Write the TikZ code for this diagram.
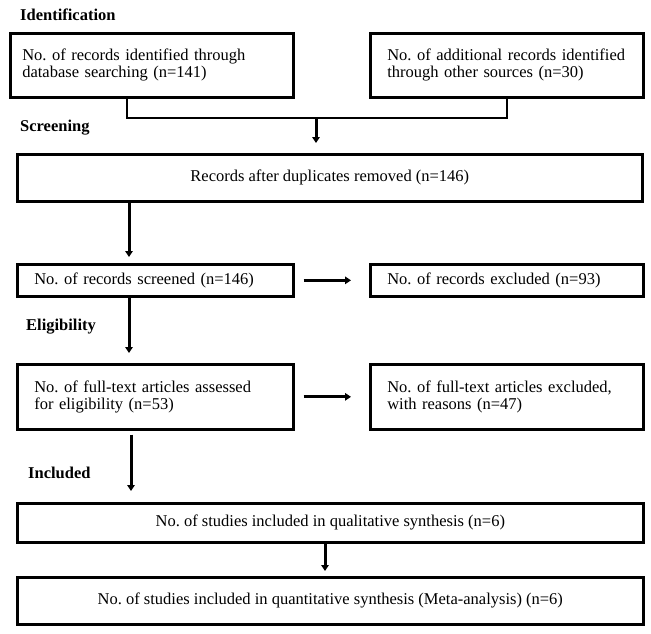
\documentclass[tikz,border=0pt]{standalone}
\usepackage{fontspec}
\setmainfont{Liberation Serif}
\usetikzlibrary{arrows.meta}
\frenchspacing
\hyphenpenalty=10000

\begin{document}
\begin{tikzpicture}[x=1pt, y=-1pt,
        stage/.style={draw=black, line width=2.6, anchor=north west, inner ysep=0pt,
            font=\fontsize{16.5}{17}\selectfont},
        leftbox/.style={stage, inner xsep=17pt, text width=#1, align=left},
        widebox/.style={stage, inner xsep=0pt, minimum width=626, align=center},
        phase/.style={anchor=west, inner sep=0pt, font=\bfseries\fontsize{16.5}{17}\selectfont},
        link/.style={line width=2.4},
        flow/.style={line width=3, -{Triangle[length=6pt,width=7.5pt]}}]
        \useasboundingbox (0,0) rectangle (651,633);

        % phase headings
        \node[phase] (hident) at (20,15) {Identification};
        \node[phase] (hscreen) at (20,128) {Screening};
        \node[phase] (helig) at (26,327) {Eligibility};
        \node[phase] (hincl) at (28,473) {Included};

        % boxes
        \node[leftbox=259, inner xsep=12pt, minimum height=64] (db) at (9,32)
            {No. of records identified through\\database searching (n=141)};
        \node[leftbox=239, minimum height=64] (other) at (369,32)
            {No. of additional records identified\\through other sources (n=30)};
        \node[widebox, minimum width=625, minimum height=47] (dedup) at (16,153)
            {Records after duplicates removed (n=146)};
        \node[leftbox=242, minimum height=32] (screened) at (16,263)
            {No. of records screened (n=146)};
        \node[leftbox=239, minimum height=32] (excluded) at (369,263)
            {No. of records excluded (n=93)};
        \node[leftbox=242, minimum height=65] (fulltext) at (16,363)
            {No. of full-text articles assessed\\for eligibility (n=53)};
        \node[leftbox=239, minimum height=65] (ftexcl) at (369,363)
            {No. of full-text articles excluded,\\with reasons (n=47)};
        \node[widebox, minimum height=39] (qual) at (16,502)
            {No. of studies included in qualitative synthesis (n=6)};
        \node[widebox, minimum height=47] (quant) at (16,576)
            {No. of studies included in quantitative synthesis (Meta-analysis) (n=6)};

        % connectors
        \coordinate (merge) at (316,118);
        \coordinate (laneA) at (129,0);
        \coordinate (laneB) at (131,0);
        \coordinate (laneC) at (325,0);
        \draw[link] ([xshift=-25pt]db.south) |- (merge) -| (other.south);
        \draw[flow, shorten >=10pt] (merge) -- (merge |- dedup.north);
        \draw[flow, shorten >=6pt] (dedup.south -| laneA) -- (screened.north -| laneA);
        \draw[flow, shorten >=10pt] (screened.south -| laneA) -- (fulltext.north -| laneA);
        \draw[flow, shorten <=4pt, shorten >=11pt] (fulltext.south -| laneB) -- (qual.north -| laneB);
        \draw[flow, shorten >=5pt] (qual.south -| laneC) -- (quant.north -| laneC);
        \draw[flow, shorten <=9pt, shorten >=18pt] (screened.east) -- (excluded.west);
        \draw[flow, shorten <=9pt, shorten >=18pt] (fulltext.east) -- (ftexcl.west);
\end{tikzpicture}
\end{document}
